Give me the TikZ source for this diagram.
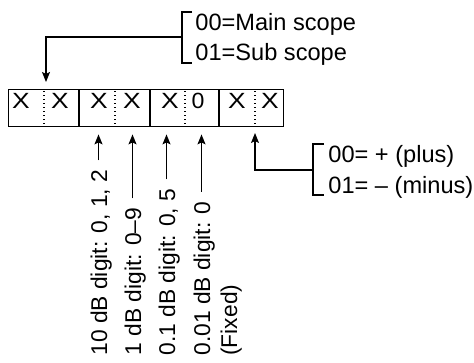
\documentclass[tikz,border=0pt]{standalone}
\usepackage{fontspec}
\usepackage{graphicx}
\setmainfont{Liberation Sans}
\usetikzlibrary{arrows.meta,calc}
\begin{document}
\begin{tikzpicture}[x=0.5bp,y=-0.5bp,
  lbl/.style={inner sep=0pt, font=\fontsize{11.8bp}{14bp}\selectfont},
  vlbl/.style={inner sep=0pt, font=\fontsize{11.4bp}{14bp}\selectfont, rotate=90, anchor=base west},
  cell/.style={inner sep=0pt, anchor=base, font=\fontsize{11bp}{13bp}\selectfont},
  arr/.style={line width=0.6bp, -{Stealth[length=5bp,width=4bp,inset=1bp]}},
  thinline/.style={line width=0.6bp},
  boxline/.style={line width=0.7bp},
  sepline/.style={line width=0.7bp, dash pattern=on 0.7bp off 1.3bp}]
\useasboundingbox (0,0) rectangle (474,362);

% register box
\node[draw, boxline, minimum width=137.5bp, minimum height=18.5bp, anchor=north west, inner sep=0pt] (reg) at (8,89) {};
\foreach \x in {79,150,219} \draw[boxline] (\x,89) -- (\x,126);
\foreach \x in {44,115,185,255} \draw[sepline] (\x,91) -- (\x,124);
\foreach \x in {21,60,99,132,170,237,270} \node[cell] (c\x) at (\x,108) {\scalebox{1.2}[1]{X}};
\node[cell] (c198) at (198,108) {\scalebox{1.05}[1]{0}};

% top legend
\node[lbl, anchor=base west] (m1) at (195,30) {00=Main scope};
\node[lbl, anchor=base west] (m2) at (195,60) {01=Sub scope};
\draw[thinline] (192,12) -- (182,12) -- (182,63) -- (192,63);
\coordinate (br1) at (182,37);
\coordinate (a1) at (46,89);
\draw[arr, shorten >=3.5bp] (br1) -| (a1);

% right legend
\node[lbl, anchor=base west] (p1) at (328,162) {00= + (plus)};
\node[lbl, anchor=base west] (p2) at (328,193) {01= – (minus)};
\draw[thinline] (324,144) -- (313,144) -- (313,195) -- (324,195);
\coordinate (br2) at (313,170);
\coordinate (a2) at (255,126);
\draw[arr, shorten >=3.5bp] (br2) -| (a2);

% bottom labels
\node[vlbl] (t1) at (107,356) {10 dB digit: 0, 1, 2};
\node[vlbl] (t2) at (141,356) {1 dB digit: 0–9};
\node[vlbl] (t3) at (175,356) {0.1 dB digit: 0, 5};
\node[vlbl] (t4) at (210,356) {0.01 dB digit: 0};
\node[vlbl] (t5) at (237,356) {(Fixed)};
\foreach \i in {1,...,4} \path ($(t\i.base east)+(-8.5,-9)$) coordinate (s\i);
\foreach \i in {1,...,4} \draw[arr, shorten >=3.5bp] (s\i) -- (s\i |- reg.south);
\end{tikzpicture}
\end{document}
